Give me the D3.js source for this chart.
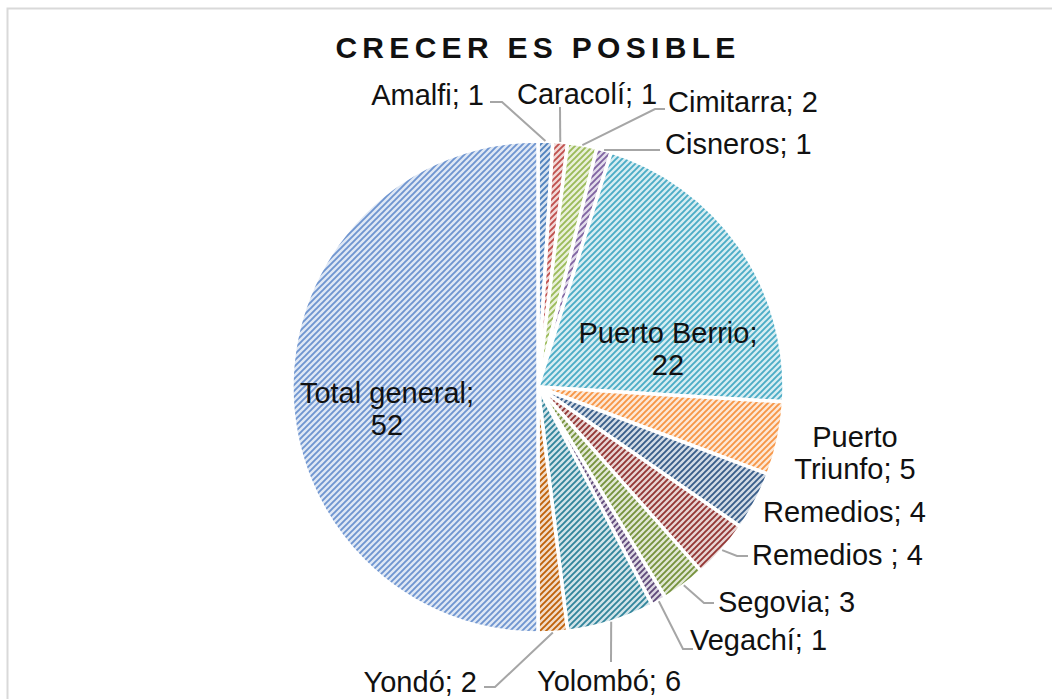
<!DOCTYPE html>
<html>
<head>
<meta charset="utf-8" />
<script src="https://cdn.jsdelivr.net/npm/d3@7/dist/d3.min.js"></script>
<style>
  body { margin: 0; background: #fff; }
  text { font-family: "Liberation Sans", Arial, sans-serif; fill: #111; }
  .title { font-weight: bold; font-size: 30px; letter-spacing: 5.3px; }
  .lbl { font-size: 29px; }
  .leader { fill: none; stroke: #a6a6a6; stroke-width: 2; }
</style>
</head>
<body>
<script>
// data
var categories = ["Amalfi", "Caracolí", "Cimitarra", "Cisneros", "Puerto Berrio", "Puerto Triunfo",
                  "Remedios", "Remedios ", "Segovia", "Vegachí", "Yolombó", "Yondó", "Total general"];
var values = [1, 1, 2, 1, 22, 5, 4, 4, 3, 1, 6, 2, 52];
var colors = ["#4F81BD", "#C0504D", "#9BBB59", "#8064A2", "#4BACC6", "#F79646",
              "#385D8A", "#943634", "#76923C", "#5F497A", "#31859C", "#C0620A", "#6F95D0"];

// label layout: [anchor, x, y, lines, leader elbow/end points]
var labelLayout = [
  ["end", 484, 105, null, [[502, 102], [490, 102]]],
  ["start", 517, 104, null, [[560, 107]]],
  ["start", 668, 112, null, [[655, 109], [665, 109]]],
  ["start", 665, 154, null, [[652, 150], [660, 150]]],
  ["middle", 668, 343, ["Puerto Berrio;", "22"], null],
  ["middle", 855, 447, ["Puerto", "Triunfo; 5"], null],
  ["start", 763, 522, null, null],
  ["start", 752, 565, null, [[737, 556], [748, 556]]],
  ["start", 718, 612, null, [[704, 603], [714, 603]]],
  ["start", 690, 650, null, [[683, 649], [693, 649]]],
  ["start", 537, 691, null, [[611, 662]]],
  ["end", 477, 692, null, [[495, 687], [484, 687]]],
  ["middle", 387, 403, ["Total general;", "52"], null]
];

var width = 1052, height = 699;
var cx = 538, cy = 387, r = 246;

var svg = d3.select("body").append("svg")
    .attr("width", width)
    .attr("height", height);

// chart border (only top/left visible in the shot)
svg.append("rect")
    .attr("x", 7.5).attr("y", 8.5)
    .attr("width", width + 20).attr("height", height + 20)
    .attr("fill", "none")
    .attr("stroke", "#d9d9d9")
    .attr("stroke-width", 2);

var defs = svg.append("defs");
colors.forEach(function(c, i) {
  var p = defs.append("pattern")
      .attr("id", "pat" + i)
      .attr("patternUnits", "userSpaceOnUse")
      .attr("width", 6).attr("height", 6);
  p.append("rect").attr("width", 6).attr("height", 6)
      .attr("fill", d3.interpolateRgb(c, "#fff")(0.78));
  p.append("path")
      .attr("d", "M-1,1 l2,-2 M0,6 l6,-6 M5,7 l2,-2")
      .attr("stroke", c)
      .attr("stroke-width", 1.9);
});

var pie = d3.pie().sort(null).value(function(d) { return d; });
var arcs = pie(values);
var arc = d3.arc().innerRadius(0).outerRadius(r);

var g = svg.append("g").attr("transform", "translate(" + cx + "," + cy + ")");

g.selectAll("path.slice")
  .data(arcs)
  .enter()
  .append("path")
    .attr("class", "slice")
    .attr("d", arc)
    .attr("fill", function(d, i) { return "url(#pat" + i + ")"; })
    .attr("stroke", "#fff")
    .attr("stroke-width", 3.5)
    .attr("stroke-linejoin", "round");

// title
svg.append("text")
    .attr("class", "title")
    .attr("x", 538).attr("y", 58)
    .attr("text-anchor", "middle")
    .text("CRECER ES POSIBLE");

// leaders
arcs.forEach(function(d, i) {
  var lay = labelLayout[i];
  if (!lay[4]) return;
  var mid = (d.startAngle + d.endAngle) / 2;
  var start = [cx + r * Math.sin(mid), cy - r * Math.cos(mid)];
  var pts = [start].concat(lay[4]);
  svg.append("path")
      .attr("class", "leader")
      .attr("d", d3.line()(pts));
});

// labels
arcs.forEach(function(d, i) {
  var lay = labelLayout[i];
  var lines = lay[3] || [categories[i] + "; " + values[i]];
  var t = svg.append("text")
      .attr("class", "lbl")
      .attr("text-anchor", lay[0])
      .attr("x", lay[1]).attr("y", lay[2]);
  lines.forEach(function(s, k) {
    t.append("tspan")
      .attr("x", lay[1])
      .attr("dy", k === 0 ? 0 : 32)
      .text(s);
  });
});
</script>
</body>
</html>
